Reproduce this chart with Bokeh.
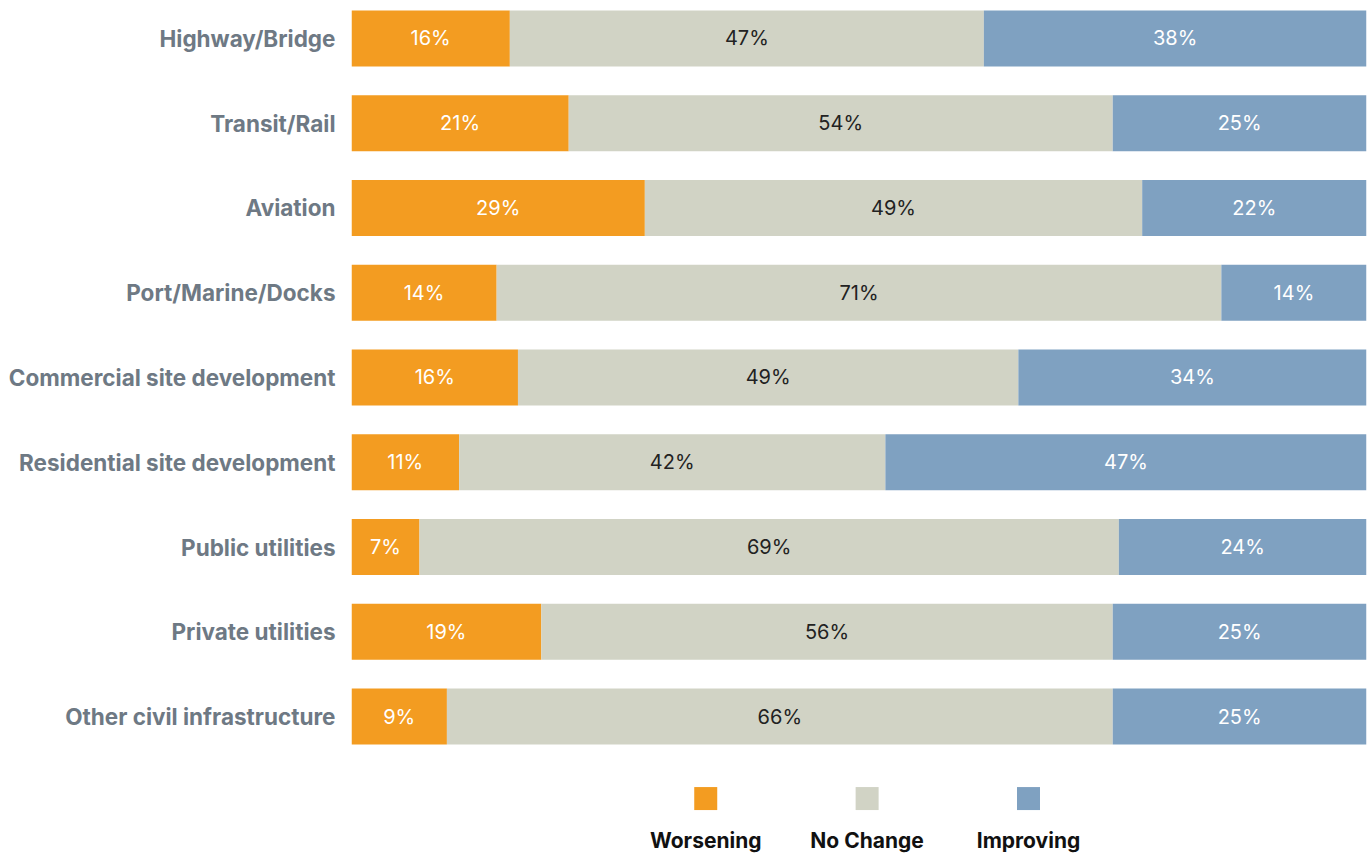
from bokeh.plotting import figure
from bokeh.models import Range1d, ColumnDataSource, FixedTicker
from bokeh.core.properties import value
from bokeh.embed import file_html
from bokeh.resources import INLINE

categories = ["Highway/Bridge", "Transit/Rail", "Aviation", "Port/Marine/Docks",
              "Commercial site development", "Residential site development",
              "Public utilities", "Private utilities", "Other civil infrastructure"]
worsening = [15.6, 21.4, 28.9, 14.3, 16.4, 10.6, 6.7, 18.7, 9.4]
no_change = [46.7, 53.6, 49.0, 71.4, 49.3, 42.0, 68.9, 56.3, 65.6]
improving = [37.7, 25.0, 22.1, 14.3, 34.3, 47.4, 24.4, 25.0, 25.0]
series_names = ["Worsening", "No Change", "Improving"]
colors = ["#F39C21", "#D1D3C5", "#7FA1C1"]
label_colors = ["white", "#222222", "white"]

FONT = "Inter"

p = figure(width=1371, height=854, output_backend="svg", toolbar_location=None,
           x_range=Range1d(0, 100), y_range=Range1d(9.628, -0.448),
           min_border_left=351, min_border_right=5, min_border_top=0, min_border_bottom=0)
p.outline_line_color = None
p.xgrid.visible = False
p.ygrid.visible = False
p.xaxis.visible = False
p.background_fill_color = "white"
p.border_fill_color = "white"

ys = list(range(len(categories)))
left = [0.0] * len(categories)
for vals, col, lc in zip([worsening, no_change, improving], colors, label_colors):
    right = [l + v for l, v in zip(left, vals)]
    mid = [(l + r) / 2 for l, r in zip(left, right)]
    src = ColumnDataSource(dict(y=ys, left=left, right=right, mid=mid,
                                lab=[f"{v:.0f}%" for v in vals]))
    p.hbar(y="y", left="left", right="right", height=0.661, source=src,
           fill_color=col, line_color=None)
    p.text(x="mid", y="y", text="lab", source=src, text_align="center",
           text_baseline="middle", text_color=lc, text_font=value(FONT),
           text_font_size="20px")
    left = right

yax = p.yaxis[0]
yax.ticker = FixedTicker(ticks=ys)
yax.major_label_overrides = {i: c for i, c in enumerate(categories)}
yax.axis_line_color = None
yax.major_tick_line_color = None
yax.minor_tick_line_color = None
yax.major_label_standoff = 10
yax.major_label_text_font = FONT
yax.major_label_text_font_size = "22.5px"
yax.major_label_text_font_style = "bold"
yax.major_label_text_color = "#6E7984"

# legend
leg_x = [34.9, 50.8, 66.7]
src_l = ColumnDataSource(dict(x=leg_x, name=series_names, c=colors))
p.rect(x="x", y=8.968, width=23, height=23, width_units="screen", height_units="screen",
       fill_color="c", line_color=None, source=src_l)
p.text(x="x", y=9.463, text="name", source=src_l, text_align="center",
       text_baseline="middle", text_color="#111111", text_font=value(FONT),
       text_font_size="21px", text_font_style="bold")

open("out.html", "w").write(file_html(p, INLINE))
